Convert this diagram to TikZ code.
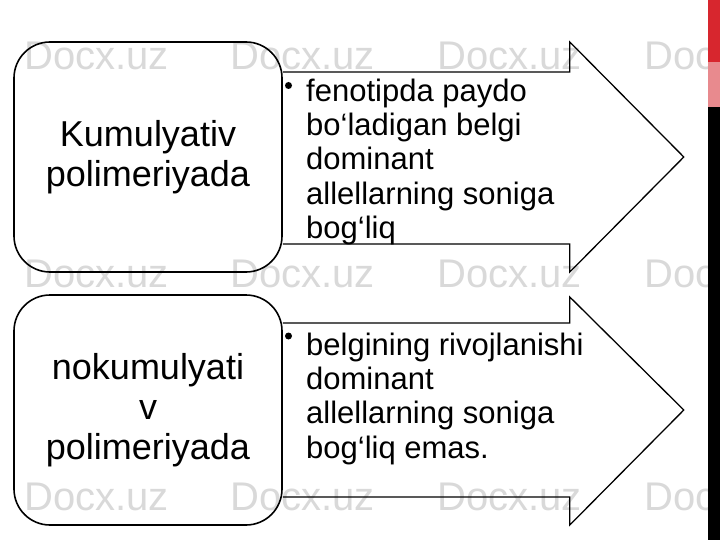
\documentclass[tikz,border=0pt]{standalone}
\usepackage{fontspec}
\setmainfont{Liberation Sans}
\usetikzlibrary{calc}
\definecolor{barred}{HTML}{D7262E}
\definecolor{barpink}{HTML}{E88A8E}
\begin{document}
\begin{tikzpicture}[
		% pixel-like units, y downwards
		x=1pt, y=-1pt,
		watermark/.style={text=gray!30, font=\fontsize{40}{40}\selectfont, anchor=base west, inner sep=0pt},
		titlebox/.style={draw, line width=1.6pt, rounded corners=36pt, minimum width=268pt, minimum height=230pt,
			align=center, inner sep=0pt, font=\fontsize{36}{40}\selectfont},
		arrowline/.style={draw, line width=1.3pt, line join=miter},
		bullettext/.style={align=left, anchor=north west, inner sep=0pt, font=\fontsize{31}{34.4}\selectfont},
		bulletdot/.style={circle, fill, inner sep=0pt, minimum size=7pt},
		]
		\useasboundingbox (0,0) rectangle (720,540);
		\foreach \y in {70,287,510}
			\foreach \x in {24,230,437,644}
				\node[watermark] at (\x,\y) {Docx.uz};
		\node[titlebox] (kum) at (148,157) {Kumulyativ\\polimeriyada};
		\node[titlebox] (nokum) at (148,410) {nokumulyati\\v\\polimeriyada};
		\draw[arrowline] ([yshift=85pt]kum.east) -- ++(287,0) -- ++(0,-30) -- ++(114,115)
			-- ++(-114,115) -- ++(0,-28) -- ++(-287,0);
		\draw[arrowline] ([yshift=87pt]nokum.east) -- ++(287,0) -- ++(0,-26) -- ++(114,113)
			-- ++(-114,115) -- ++(0,-28) -- ++(-287,0);
		\node[bulletdot] (dot1) at (288.5,85.5) {};
		\node[bullettext] (fen) at (306,78.5) {fenotipda paydo\\bo‘ladigan belgi\\dominant\\allellarning soniga\\bog‘liq};
		\node[bulletdot] (dot2) at (288.5,336) {};
		\node[bullettext] (bel) at (306,332.5) {belgining rivojlanishi\\dominant\\allellarning soniga\\bog‘liq emas.};
		\fill[black] (708,0) rectangle (720,540);
		\fill[barred] (708,0) rectangle (720,62);
		\fill[barpink] (708,62) rectangle (720,107);
	\end{tikzpicture}
\end{document}
